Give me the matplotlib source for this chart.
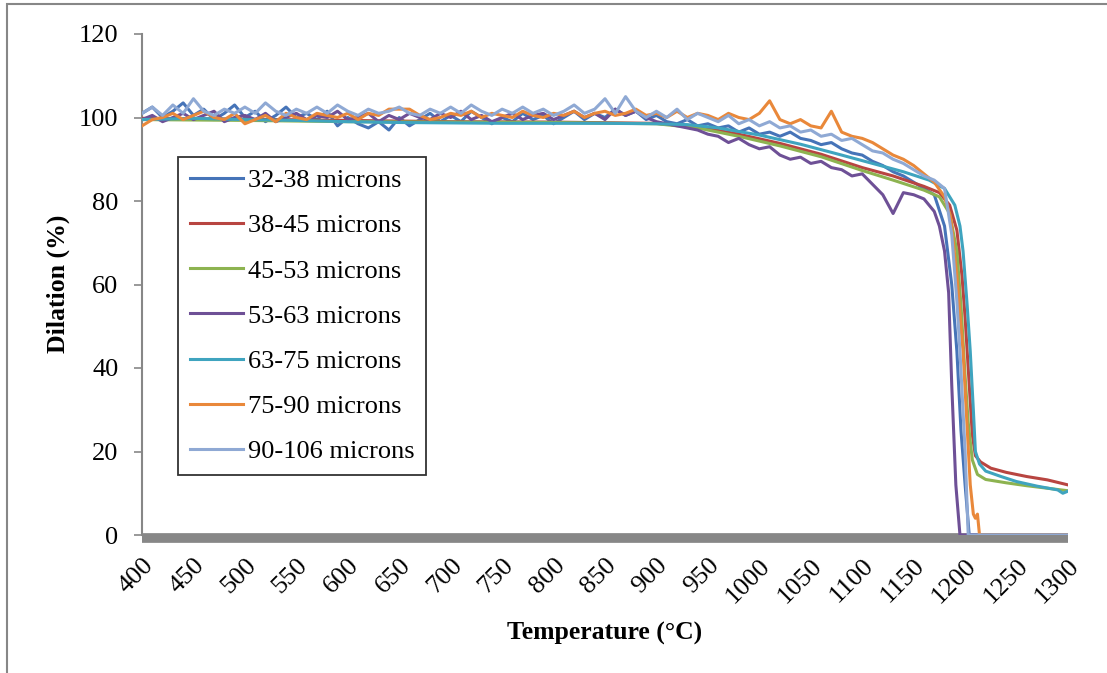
import matplotlib
matplotlib.use("Agg")
import matplotlib.pyplot as plt
from matplotlib.patches import Rectangle

plt.rcParams["font.family"] = ["Liberation Serif", "DejaVu Serif"]

LABELS = ["32-38 microns", "38-45 microns", "45-53 microns", "53-63 microns",
          "63-75 microns", "75-90 microns", "90-106 microns"]
COLORS = ["#4674B8", "#B84541", "#8DB350", "#6E5096", "#3FA4BF", "#E9883A", "#8FA9D4"]

# common sampling grid (°C) for the noisy runs, 400..1170
T_GRID = list(range(400, 1180, 10))

blue_base = [101, 102.5, 100, 101.5, 103.5, 100.5, 102, 99.5, 101, 103,
             100, 101.5, 99, 100.5, 102.5, 100, 101, 99.5, 101.5, 98,
             100, 98.5, 97.5, 99, 97, 100, 98, 99.5, 101, 99,
             100.5, 99, 101.5, 100, 98.5, 100, 99, 101, 99.5, 100.5,
             98.5, 100, 101.5, 99.5, 101, 100, 102, 100.5, 101.5, 99.5,
             100.5, 99, 98.5, 99.5, 98, 98.5, 97.5, 98, 96.5, 97.5,
             96, 96.5, 95.5, 96.5, 95, 94.5, 93.5, 94, 92.5, 91.5,
             91, 89.5, 88.5, 87, 86, 84.5, 83, 81.5]
blue_drop_t = [1180, 1187, 1192, 1196, 1200, 1204, 1300]
blue_drop_v = [74, 60, 44, 25, 12, 0, 0]

purple_base = [99.5, 100.5, 99, 100, 101, 99.5, 100.5, 101.5, 99, 100,
               100.5, 99.5, 101, 99, 100, 101, 99.5, 100.5, 100, 101.5,
               99.5, 100, 101, 99, 100.5, 99.5, 101, 100, 99.5, 101,
               100, 101.5, 99.5, 100.5, 99, 100, 101, 99.5, 100.5, 101,
               99.5, 100.5, 101.5, 100, 101, 99.5, 102, 100.5, 101.5, 100,
               99, 98.5, 98, 97.5, 97, 96, 95.5, 94, 95, 93.5,
               92.5, 93, 91, 90, 90.5, 89, 89.5, 88, 87.5, 86,
               86.5, 84, 81.5, 77, 82, 81.5, 80.5, 77.5]
purple_drop_t = [1175, 1180, 1184, 1187, 1191, 1195, 1210]
purple_drop_v = [74, 68, 58, 36, 12, 0, 0]

orange_base = [98, 99.5, 100, 101, 99.5, 100.5, 101.5, 100, 99.5, 101,
               98.5, 99.5, 100.5, 99, 101, 100, 99.5, 101, 100.5, 100,
               101, 99.5, 101, 100.5, 102, 102, 102, 100.5, 99.5, 100,
               101, 100.5, 101.5, 100, 101, 100.5, 100, 101.5, 100.5, 100,
               101, 100.5, 101.5, 100, 101, 101.5, 100.5, 101, 102, 100.5,
               101, 100, 101.5, 100, 101, 100.5, 99.5, 101, 100, 99.5,
               101, 104, 99.5, 98.5, 99.5, 98, 97.5, 101.5, 96.5, 95.5,
               95, 94, 92.5, 91, 90, 88.5, 86.5, 84.5]
orange_drop_t = [1180, 1186, 1192, 1198, 1205, 1208, 1210, 1212, 1214, 1300]
orange_drop_v = [81, 76, 62, 44, 12, 5, 4, 5, 0, 0]

lblue_base = [101, 102.5, 100.5, 103, 101, 104.5, 101.5, 100.5, 102, 101,
              102.5, 101, 103.5, 101.5, 100.5, 102, 101, 102.5, 101, 103,
              101.5, 100.5, 102, 101, 101.5, 102.5, 101, 100.5, 102, 101,
              102.5, 101, 103, 101.5, 100.5, 102, 101, 102.5, 101, 102,
              100.5, 101.5, 103, 101, 102, 104.5, 101, 105, 101.5, 100,
              101.5, 100, 102, 99.5, 101, 100, 99, 100.5, 98.5, 99.5,
              98, 99, 97.5, 98, 96.5, 97, 95.5, 96, 94.5, 95,
              93.5, 92, 91.5, 90, 89, 87.5, 86, 85]
lblue_drop_t = [1180, 1187, 1192, 1195, 1200, 1203, 1300]
lblue_drop_v = [83, 72, 56, 44, 20, 0, 0]

# smoother runs
red_t = [400, 500, 600, 700, 800, 900, 940, 980, 1020, 1060, 1100, 1130, 1160, 1175,
         1185, 1192, 1197, 1200, 1203, 1207, 1210, 1215, 1225, 1240, 1260, 1280, 1300]
red_v = [99.8, 99.6, 99.3, 99, 98.9, 98.6, 97.8, 96, 93.8, 91.2, 88, 86, 83.5, 82,
         79, 73, 62, 52, 40, 24, 19, 17.5, 16, 15, 14, 13.2, 12]

green_t = [400, 500, 600, 700, 800, 900, 940, 980, 1020, 1060, 1100, 1130, 1160, 1175,
           1185, 1192, 1196, 1200, 1203, 1207, 1212, 1220, 1240, 1260, 1280, 1300]
green_v = [99.5, 99.3, 99, 98.9, 98.8, 98.5, 97.5, 95.5, 93.2, 90.6, 87.3, 85, 82.6, 81,
           77, 68, 55, 38, 27, 18, 14.5, 13.3, 12.5, 11.8, 11.2, 10.6]

teal_t = [400, 450, 500, 550, 600, 650, 700, 750, 800, 850, 900, 930, 960, 1000, 1040,
          1080, 1110, 1140, 1165, 1180, 1190, 1195, 1198, 1202, 1205, 1208, 1210, 1214,
          1220, 1235, 1250, 1270, 1290, 1295, 1300]
teal_v = [99.5, 99.8, 99.5, 99.3, 99, 98.8, 98.7, 98.6, 98.6, 98.6, 98.5, 98.3, 97.5,
          95.8, 93.6, 91, 89, 87, 85, 83, 79, 74, 68, 55, 44, 30, 20, 17, 15.3, 14,
          12.8, 11.7, 10.8, 10, 10.5]

series = [
    (T_GRID + blue_drop_t, blue_base + blue_drop_v),
    (red_t, red_v),
    (green_t, green_v),
    (T_GRID + purple_drop_t, purple_base + purple_drop_v),
    (teal_t, teal_v),
    (T_GRID + orange_drop_t, orange_base + orange_drop_v),
    (T_GRID + lblue_drop_t, lblue_base + lblue_drop_v),
]

W, H = 1107, 673
fig = plt.figure(figsize=(W / 100, H / 100), dpi=100)
ax = fig.add_axes([142 / W, 1 - 535 / H, (1068 - 142) / W, (535 - 34) / H])

for (t, v), label, color in zip(series, LABELS, COLORS):
    ax.plot(t, v, color=color, lw=2.2, label=label, zorder=3, solid_joinstyle="round")

# thick grey category axis under the zero line
ax.plot([400, 1300], [-0.75, -0.75], color="#878787", lw=7.0, solid_capstyle="butt",
        zorder=2, clip_on=False)

ax.set_xlim(400, 1300)
ax.set_ylim(0, 120)
ax.set_yticks([0, 20, 40, 60, 80, 100, 120])
ax.set_xticks(list(range(400, 1301, 50)))
ax.tick_params(axis="y", direction="out", length=6, width=1.2, color="#878787",
               labelsize=19, pad=11)
ax.tick_params(axis="x", length=0, labelsize=19, pad=14)
for lab in ax.get_xticklabels():
    lab.set_rotation(45)
    lab.set_ha("right")
    lab.set_va("top")
    lab.set_rotation_mode("anchor")

for side in ["top", "right", "bottom"]:
    ax.spines[side].set_visible(False)
ax.spines["left"].set_color("#878787")
ax.spines["left"].set_linewidth(1.5)

leg = ax.legend(loc="upper left", bbox_to_anchor=((178 - 142) / 926, (535 - 157) / 501),
                borderaxespad=0, fontsize=19, frameon=True, fancybox=False,
                edgecolor="black", labelspacing=0.82, handlelength=2.0,
                handletextpad=0.2, borderpad=0.45)
leg.get_frame().set_linewidth(1.3)

fig.text(605 / W, 1 - 633 / H, "Temperature (°C)", ha="center", va="center",
         fontsize=18.5, fontweight="bold")
fig.text(58 / W, 1 - 284 / H, "Dilation (%)", ha="center", va="center",
         rotation=90, fontsize=18.5, fontweight="bold")

# outer chart-area border
fig.add_artist(Rectangle((7 / W, -0.05), 1.05, 1.05 - 4 / H,
                         transform=fig.transFigure, fill=False,
                         edgecolor="#878787", lw=1.5))

fig.savefig("out.png", dpi=100)
